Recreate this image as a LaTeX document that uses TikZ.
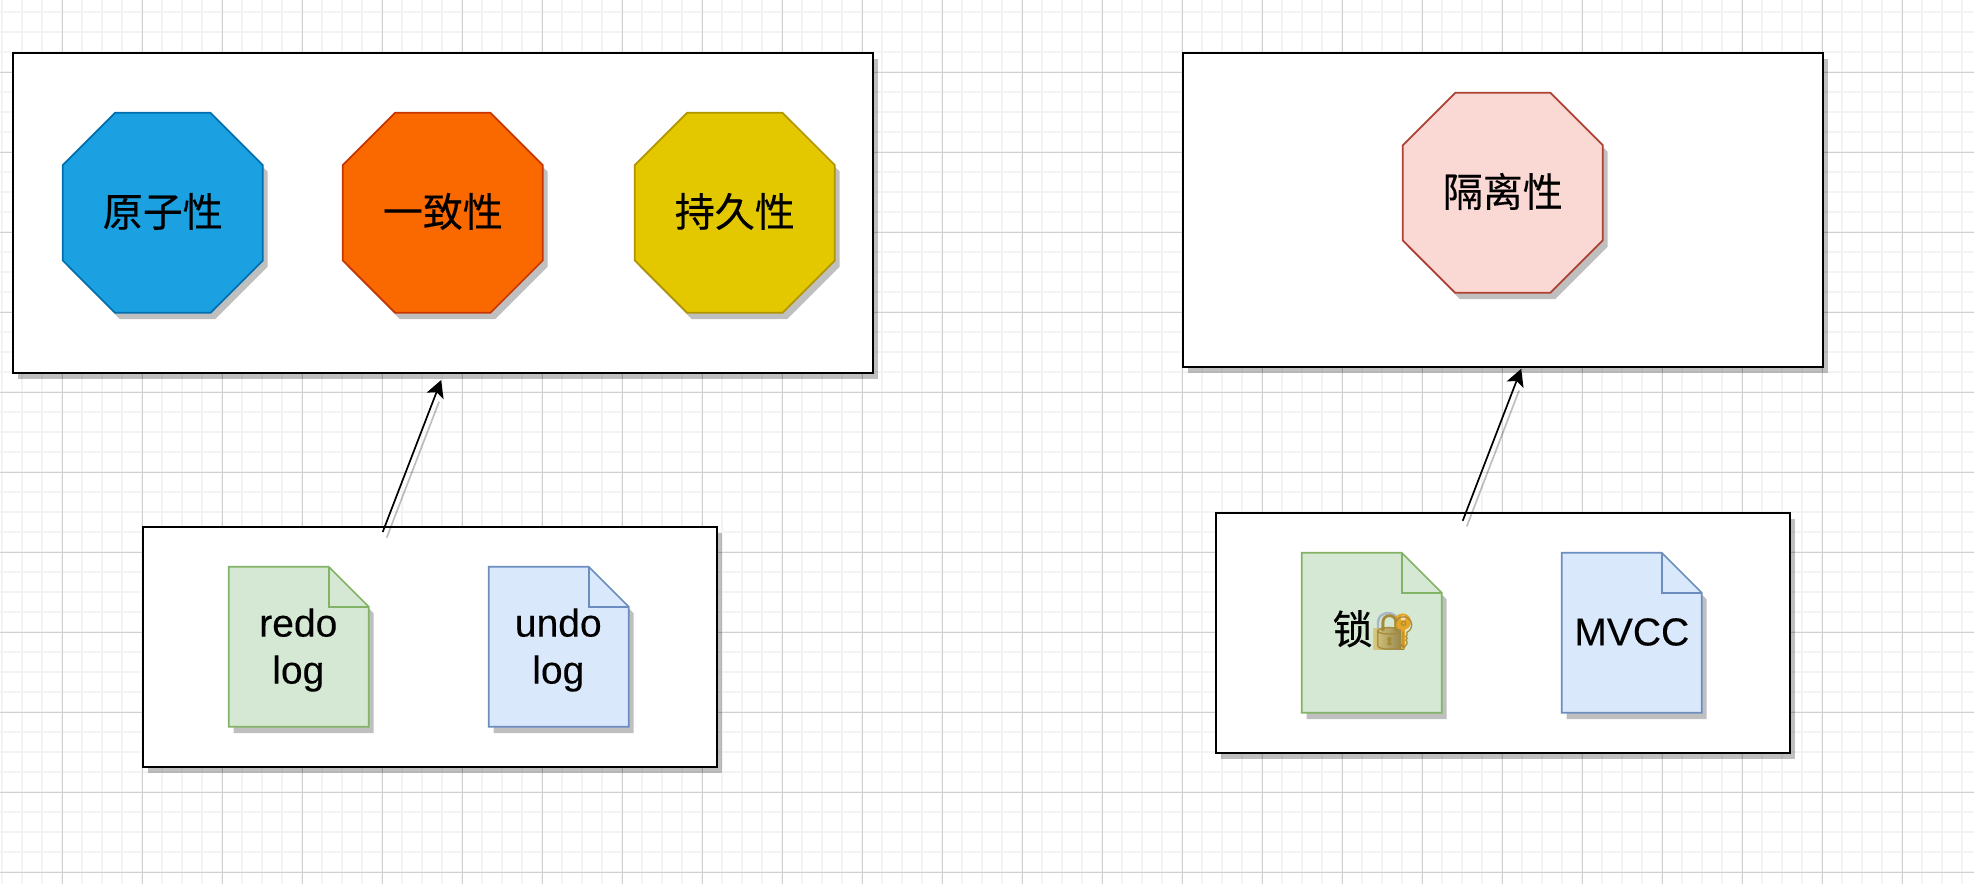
\documentclass[tikz,border=0pt]{standalone}
\usepackage{fontspec}
\setmainfont[FakeBold=0.25]{Liberation Sans}
\newfontfamily\cjkfont[FakeBold=0.3]{Noto Sans CJK SC}
\newfontfamily\emojifont{Noto Emoji}
\usetikzlibrary{shapes.misc,shadows,arrows.meta}
\definecolor{gridmajor}{HTML}{D0D0D0}
\definecolor{gridminor}{HTML}{F3F3F3}
\definecolor{lockgold}{HTML}{A58A3A}
\definecolor{bluefill}{HTML}{1BA1E2}\definecolor{bluedraw}{HTML}{006EAF}
\definecolor{orangefill}{HTML}{FA6800}\definecolor{orangedraw}{HTML}{C73500}
\definecolor{yellowfill}{HTML}{E3C800}\definecolor{yellowdraw}{HTML}{B09500}
\definecolor{pinkfill}{HTML}{FAD9D5}\definecolor{pinkdraw}{HTML}{AE4132}
\definecolor{greenfill}{HTML}{D5E8D4}\definecolor{greendraw}{HTML}{82B366}
\definecolor{paleblue}{HTML}{DAE8FC}\definecolor{paleblued}{HTML}{6C8EBF}
\definecolor{keygold}{HTML}{E5A526}
\definecolor{lockleft}{HTML}{D8CA80}
\definecolor{lockright}{HTML}{8F8048}
\definecolor{shackle}{HTML}{A9B4C8}
\tikzset{
  softshadow/.style={drop shadow={shadow xshift=4.7pt,shadow yshift=-6.4pt,opacity=.25,fill=black}},
  groupbox/.style={rectangle,draw=black,fill=white,line width=1.9pt,inner sep=0pt,outer sep=0pt,softshadow},
  octa/.style n args={2}{chamfered rectangle,chamfered rectangle xsep=32.5pt,chamfered rectangle ysep=32.5pt,
    minimum width=200pt,minimum height=200pt,inner sep=0pt,outer sep=0pt,fill=#1,draw=#2,line width=1.7pt,softshadow,
    font=\fontsize{40}{48}\selectfont\cjkfont,text=black,text depth=6pt},
  docanchor/.style={rectangle,minimum width=140pt,minimum height=160pt,inner sep=0pt,outer sep=0pt},
  docline/.style n args={2}{fill=#1,draw=#2,line width=1.7pt,line join=miter},
  bigcjk/.style={font=\fontsize{40}{48}\selectfont\cjkfont,text=black,inner sep=0pt},
  biglatin/.style={font=\fontsize{39}{47}\selectfont,text=black,align=center,inner sep=0pt},
  connector/.style={line width=1.7pt,draw=black,-{Stealth[length=17pt,width=18pt,inset=4pt]}},
  connshadow/.style={line width=1.7pt,draw=black,opacity=.25},
}
\newcommand{\dogear}[3]{%
  \path[softshadow,fill=#2] (#1.north west) -- ([xshift=-40pt]#1.north east) -- ([yshift=-40pt]#1.north east) -- (#1.south east) -- (#1.south west) -- cycle;
  \draw[docline={#2}{#3},fill=none] (#1.north west) -- ([xshift=-40pt]#1.north east) -- ([yshift=-40pt]#1.north east) -- (#1.south east) -- (#1.south west) -- cycle;
  \draw[docline={#2}{#3},fill=none] ([xshift=-40pt]#1.north east) -- ([xshift=-40pt,yshift=-40pt]#1.north east) -- ([yshift=-40pt]#1.north east);
}
\begin{document}
\begin{tikzpicture}[x=1pt,y=-1pt]
\useasboundingbox (0,0) rectangle (1974,884);
\fill[white] (0,0) rectangle (1974,884);
% grid
\foreach \k in {0,...,98} \draw[gridminor,line width=1.7pt] ({2.3+20*\k},0) -- ({2.3+20*\k},884);
\foreach \k in {0,...,43} \draw[gridminor,line width=1.7pt] (0,{12.3+20*\k}) -- (1974,{12.3+20*\k});
\foreach \k in {0,...,24} \draw[gridmajor,line width=1pt] ({62.3+80*\k},0) -- ({62.3+80*\k},884);
\foreach \k in {0,...,10} \draw[gridmajor,line width=1pt] (0,{72.3+80*\k}) -- (1974,{72.3+80*\k});
% group boxes
\node[groupbox,minimum width=860pt,minimum height=320pt] (acdbox) at (442.8,212.8) {};
\node[groupbox,minimum width=640pt,minimum height=314pt] (isobox) at (1502.8,209.9) {};
\node[groupbox,minimum width=574pt,minimum height=240pt] (logbox) at (429.8,646.7) {};
\node[groupbox,minimum width=574pt,minimum height=240pt] (lockbox) at (1503,633) {};
% octagons
\node[octa={bluefill}{bluedraw}] (atom) at (162.8,212.8) {原子性};
\node[octa={orangefill}{orangedraw}] (cons) at (442.8,212.8) {一致性};
\node[octa={yellowfill}{yellowdraw}] (dura) at (734.8,212.8) {持久性};
\node[octa={pinkfill}{pinkdraw}] (isol) at (1502.8,192.8) {隔离性};
% documents
\node[docanchor] (redo) at (298.8,646.8) {};
\node[docanchor] (undo) at (558.8,646.8) {};
\node[docanchor] (lock) at (1371.8,632.8) {};
\node[docanchor] (mvcc) at (1631.8,632.8) {};
\dogear{redo}{greenfill}{greendraw}
\dogear{undo}{paleblue}{paleblued}
\dogear{lock}{greenfill}{greendraw}
\dogear{mvcc}{paleblue}{paleblued}
\node[biglatin] (redotext) at (298.3,650) {redo\\log};
\node[biglatin] (undotext) at (558.3,650) {undo\\log};
\node[biglatin] (mvcctext) at (1631.8,632) {MVCC};
% colours of the padlock-and-key emoji, under its glyph
\shade[left color=lockleft,right color=lockright] (1373,628) rectangle (1404,649);
\draw[line width=2.4pt,draw=shackle] (1378,628) -- (1378,622) arc[start angle=180,end angle=0,x radius=10,y radius=-9] -- (1398,628);
\fill[keygold] (1402.7,621.7) circle[radius=8.3];
\fill[keygold] (1401,628) rectangle (1405,649);
\fill[white!70!orange] (1403,618) circle[radius=2.6];
\node[bigcjk,anchor=west] (locktext) at (1332.5,630) {锁{\fontsize{35}{48}\selectfont\emojifont\color{lockgold}🔐}};
% connectors
\coordinate (logout) at (382.7,532);
\coordinate (acdin) at (441.2,380);
\coordinate (lockout) at (1462.7,520.8);
\coordinate (isoin) at (1521.2,368.8);
\draw[connshadow] ([shift={(4,5.7)}]logout) -- ([shift={(-2.1,21.6)}]acdin);
\draw[connshadow] ([shift={(4,5.7)}]lockout) -- ([shift={(-2.1,21.6)}]isoin);
\draw[connector] (logout) -- (acdin);
\draw[connector] (lockout) -- (isoin);
\end{tikzpicture}
\end{document}
